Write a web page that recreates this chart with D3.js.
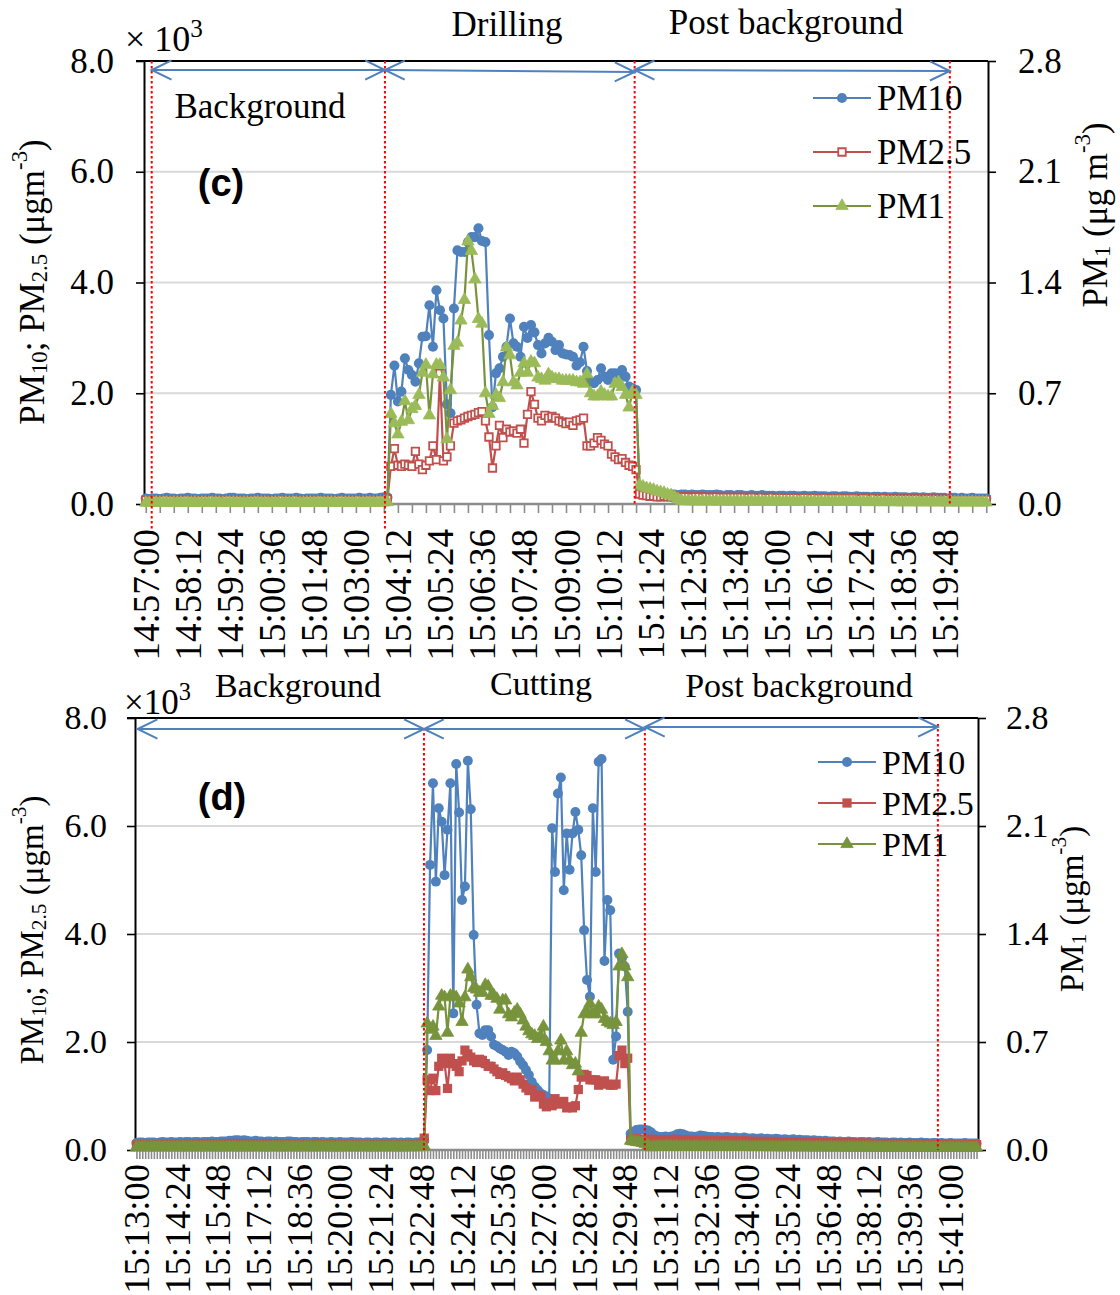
<!DOCTYPE html>
<html>
<head>
<meta charset="utf-8">
<script src="https://cdn.jsdelivr.net/npm/d3@7"></script>
<style>
  body { margin: 0; background: #fff; }
  svg { display: block; }
</style>
</head>
<body>
<svg id="chart" width="1120" height="1295"></svg>
<script>
// ---------- panel (c): drilling, one value every 6 s from 14:57:00 ----------
const bgC_pm10 = [
  0.10,0.09,0.10,0.10,0.09,0.10,0.11,0.10,0.10,0.09,
  0.10,0.10,0.11,0.10,0.10,0.09,0.10,0.10,0.10,0.11,
  0.10,0.10,0.09,0.10,0.11,0.11,0.10,0.10,0.10,0.09,
  0.10,0.10,0.11,0.10,0.10,0.10,0.09,0.10,0.10,0.11,
  0.10,0.10,0.10,0.11,0.10,0.09,0.10,0.10,0.10,0.10,
  0.11,0.10,0.10,0.10,0.09,0.10,0.11,0.10,0.10,0.10,
  0.10,0.11,0.10,0.10,0.11,0.10,0.10,0.11,0.12,0.12];
const bgC_pm25 = [
  0.07,0.06,0.07,0.07,0.06,0.07,0.08,0.07,0.07,0.06,
  0.07,0.07,0.08,0.07,0.06,0.06,0.07,0.07,0.07,0.08,
  0.07,0.07,0.06,0.07,0.08,0.07,0.07,0.07,0.06,0.06,
  0.07,0.07,0.08,0.07,0.07,0.07,0.06,0.07,0.07,0.08,
  0.07,0.07,0.07,0.08,0.07,0.06,0.07,0.07,0.07,0.07,
  0.08,0.07,0.07,0.07,0.06,0.07,0.08,0.07,0.07,0.07,
  0.07,0.08,0.07,0.07,0.08,0.07,0.07,0.08,0.08,0.09];
const bgC_pm1 = [
  0.008,0.007,0.008,0.009,0.007,0.008,0.008,0.007,0.009,0.008,
  0.008,0.007,0.008,0.008,0.009,0.007,0.008,0.008,0.007,0.008,
  0.009,0.008,0.007,0.008,0.008,0.009,0.008,0.007,0.008,0.008,
  0.007,0.008,0.009,0.008,0.008,0.007,0.008,0.009,0.008,0.007,
  0.008,0.008,0.009,0.008,0.007,0.008,0.008,0.009,0.008,0.008,
  0.007,0.008,0.008,0.009,0.008,0.007,0.008,0.008,0.009,0.008,
  0.008,0.007,0.009,0.008,0.008,0.009,0.008,0.009,0.010,0.012];

const drill_pm10 = [
  1.97,2.50,1.85,2.03,2.63,2.42,2.33,2.21,2.54,3.02,
  3.03,3.59,2.84,3.86,3.50,3.35,1.80,1.64,3.53,4.58,
  4.55,4.55,4.73,4.82,4.82,4.98,4.75,4.73,3.05,1.75,
  2.36,2.45,2.66,2.84,3.35,2.90,2.84,2.66,3.20,3.00,
  3.23,3.10,2.87,2.72,2.90,3.00,2.93,2.78,2.87,2.72,
  2.70,2.69,2.66,2.50,2.56,2.84,2.40,2.21,2.18,2.24,
  2.45,2.30,2.24,2.36,2.36,2.27,2.42,2.30,2.12,2.09,
  2.06];
const drill_pm25 = [
  0.68,1.00,0.70,0.68,0.72,0.70,0.68,0.95,0.72,0.62,
  0.70,0.78,1.05,0.80,2.36,0.78,0.85,1.05,1.46,1.50,
  1.52,1.55,1.58,1.60,1.62,1.65,1.67,1.50,1.21,0.65,
  1.05,1.42,1.20,1.35,1.30,1.32,1.28,1.35,1.10,1.62,
  2.03,1.80,1.55,1.50,1.60,1.55,1.58,1.55,1.50,1.48,
  1.45,1.48,1.42,1.50,1.52,1.55,1.05,1.05,1.10,1.20,
  1.15,1.08,1.05,0.90,0.85,0.80,0.82,0.75,0.70,0.68,
  0.62];
const drill_pm1 = [
  0.57,0.51,0.44,0.52,0.65,0.53,0.60,0.62,0.69,0.83,
  0.88,0.56,0.82,0.88,0.88,0.80,0.41,0.72,1.00,1.02,
  1.16,1.29,1.66,1.60,1.42,1.17,1.14,0.70,0.57,0.62,
  0.69,0.67,0.77,0.99,0.94,0.77,0.75,0.83,0.89,0.83,
  0.90,0.89,0.80,0.79,0.78,0.82,0.80,0.79,0.79,0.78,
  0.78,0.78,0.78,0.77,0.77,0.76,0.82,0.70,0.68,0.68,
  0.71,0.69,0.68,0.68,0.76,0.77,0.74,0.69,0.61,0.71,
  0.69];

const postC_pm10 = [
  0.22,0.20,0.19,0.18,0.18,0.17,0.17,0.18,0.17,0.17,
  0.17,0.16,0.17,0.17,0.16,0.17,0.16,0.16,0.17,0.16,
  0.16,0.16,0.17,0.16,0.15,0.16,0.16,0.15,0.16,0.16,
  0.15,0.15,0.16,0.15,0.15,0.16,0.15,0.15,0.15,0.14,
  0.15,0.15,0.14,0.15,0.15,0.14,0.14,0.15,0.14,0.14,
  0.15,0.14,0.14,0.14,0.13,0.14,0.14,0.13,0.14,0.14,
  0.13,0.13,0.14,0.13,0.13,0.13,0.12,0.13,0.13,0.12,
  0.13,0.12,0.12,0.13,0.12,0.12,0.12,0.11,0.12,0.12,
  0.11,0.12,0.11,0.11,0.12,0.11,0.11,0.11,0.10,0.11,
  0.11,0.10,0.11,0.10,0.10,0.11,0.10,0.10,0.10,0.10];
const postC_pm25 = [
  0.18,0.16,0.15,0.14,0.14,0.13,0.13,0.14,0.13,0.13,
  0.13,0.13,0.13,0.13,0.13,0.12,0.13,0.13,0.12,0.13,
  0.12,0.12,0.13,0.12,0.12,0.12,0.12,0.12,0.12,0.12,
  0.12,0.11,0.12,0.12,0.11,0.12,0.11,0.11,0.12,0.11,
  0.11,0.11,0.11,0.11,0.11,0.11,0.10,0.11,0.11,0.10,
  0.11,0.10,0.10,0.11,0.10,0.10,0.10,0.10,0.10,0.10,
  0.10,0.10,0.10,0.09,0.10,0.10,0.09,0.10,0.09,0.09,
  0.10,0.09,0.09,0.09,0.09,0.09,0.09,0.09,0.09,0.09,
  0.09,0.08,0.09,0.09,0.08,0.09,0.08,0.08,0.09,0.08,
  0.08,0.08,0.08,0.08,0.08,0.08,0.08,0.08,0.08,0.08];
const postC_pm1 = [
  0.120,0.110,0.100,0.095,0.090,0.080,0.075,0.070,0.060,0.055,
  0.045,0.030,0.020,0.018,0.017,0.018,0.017,0.016,0.017,0.017,
  0.016,0.017,0.016,0.016,0.017,0.016,0.015,0.016,0.016,0.015,
  0.016,0.015,0.016,0.015,0.015,0.016,0.015,0.015,0.014,0.015,
  0.015,0.014,0.015,0.014,0.015,0.014,0.014,0.015,0.014,0.014,
  0.014,0.013,0.014,0.014,0.013,0.014,0.013,0.014,0.013,0.013,
  0.013,0.014,0.013,0.013,0.012,0.013,0.013,0.012,0.013,0.012,
  0.012,0.013,0.012,0.012,0.012,0.011,0.012,0.012,0.011,0.012,
  0.011,0.012,0.011,0.011,0.012,0.011,0.011,0.011,0.010,0.011,
  0.011,0.010,0.011,0.010,0.010,0.011,0.010,0.010,0.010,0.010];

const labelsC = ["14:57:00","14:58:12","14:59:24","15:00:36","15:01:48","15:03:00",
  "15:04:12","15:05:24","15:06:36","15:07:48","15:09:00","15:10:12","15:11:24",
  "15:12:36","15:13:48","15:15:00","15:16:12","15:17:24","15:18:36","15:19:48"];
const phasesC = ["Background", "Drilling", "Post background"];

// ---------- panel (d): cutting, one value every 6 s from 15:13:00 ----------
const bgD_pm10 = [
  0.13,0.14,0.14,0.13,0.14,0.14,0.14,0.13,0.14,0.15,
  0.14,0.14,0.15,0.14,0.14,0.15,0.14,0.15,0.15,0.14,
  0.15,0.15,0.14,0.15,0.15,0.15,0.16,0.15,0.15,0.16,
  0.16,0.16,0.17,0.17,0.18,0.18,0.17,0.18,0.17,0.16,
  0.16,0.17,0.16,0.16,0.15,0.16,0.16,0.15,0.16,0.15,
  0.15,0.15,0.16,0.16,0.15,0.15,0.14,0.15,0.15,0.15,
  0.14,0.15,0.15,0.14,0.15,0.14,0.14,0.15,0.14,0.14,
  0.15,0.14,0.14,0.14,0.15,0.14,0.14,0.14,0.13,0.14,
  0.14,0.13,0.14,0.14,0.13,0.14,0.14,0.13,0.14,0.14,
  0.13,0.14,0.13,0.14,0.14,0.13,0.14,0.14,0.15,0.17];
const bgD_pm25 = [
  0.09,0.10,0.10,0.09,0.10,0.10,0.09,0.10,0.10,0.11,
  0.10,0.10,0.11,0.10,0.10,0.11,0.10,0.10,0.11,0.10,
  0.11,0.10,0.10,0.11,0.10,0.11,0.11,0.10,0.11,0.11,
  0.11,0.11,0.12,0.11,0.12,0.12,0.11,0.12,0.11,0.11,
  0.11,0.11,0.11,0.10,0.11,0.11,0.10,0.11,0.10,0.11,
  0.10,0.11,0.10,0.11,0.10,0.10,0.10,0.11,0.10,0.10,
  0.10,0.10,0.11,0.10,0.10,0.10,0.10,0.11,0.10,0.10,
  0.10,0.10,0.10,0.09,0.10,0.10,0.10,0.09,0.10,0.10,
  0.09,0.10,0.10,0.09,0.10,0.10,0.09,0.10,0.10,0.09,
  0.10,0.10,0.09,0.10,0.10,0.09,0.10,0.10,0.12,0.22];
const bgD_pm1 = [
  0.018,0.017,0.018,0.019,0.017,0.018,0.018,0.017,0.019,0.018,
  0.018,0.017,0.018,0.018,0.019,0.017,0.018,0.018,0.017,0.018,
  0.019,0.018,0.017,0.018,0.018,0.019,0.018,0.017,0.018,0.018,
  0.017,0.018,0.019,0.018,0.018,0.017,0.018,0.019,0.018,0.017,
  0.018,0.018,0.019,0.018,0.017,0.018,0.018,0.019,0.018,0.018,
  0.017,0.018,0.018,0.019,0.018,0.017,0.018,0.018,0.019,0.018,
  0.018,0.017,0.019,0.018,0.018,0.019,0.018,0.017,0.018,0.018,
  0.017,0.018,0.018,0.019,0.018,0.017,0.018,0.018,0.019,0.018,
  0.018,0.017,0.018,0.019,0.018,0.017,0.018,0.018,0.019,0.018,
  0.017,0.018,0.018,0.019,0.018,0.018,0.019,0.018,0.020,0.025];

const cut_pm10 = [
  1.85,5.28,6.79,4.97,6.33,6.08,5.09,5.93,6.79,2.53,
  7.15,6.25,4.63,4.88,7.21,6.31,3.98,2.69,2.16,2.13,
  2.22,2.22,2.10,1.95,1.92,1.88,1.85,1.82,1.76,1.82,
  1.79,1.73,1.64,1.57,1.48,1.39,1.26,1.17,1.11,1.05,
  1.02,0.99,0.95,5.96,5.15,6.60,6.90,4.81,5.86,5.19,
  5.86,6.26,5.93,5.46,4.07,3.15,2.84,6.33,5.15,7.19,
  7.24,3.50,4.63,4.44,1.67,2.10,3.64,3.55,3.40,2.56];
const cut_pm25 = [
  1.30,1.10,1.33,1.10,1.55,1.70,1.60,1.14,1.70,1.60,
  1.55,1.45,1.65,1.85,1.78,1.72,1.65,1.62,1.68,1.66,
  1.60,1.55,1.55,1.50,1.45,1.40,1.43,1.38,1.35,1.32,
  1.28,1.35,1.30,1.22,1.15,1.10,1.12,0.98,1.02,1.00,
  0.85,0.80,0.88,0.82,0.95,0.85,0.88,0.90,0.78,0.80,
  0.78,0.82,1.12,1.35,1.40,1.38,1.30,1.30,1.30,1.20,
  1.25,1.28,1.22,1.20,1.20,1.22,1.75,1.85,1.60,1.70];
const cut_pm1 = [
  0.82,0.78,0.80,0.74,0.93,1.00,0.99,0.76,1.00,1.00,
  0.99,0.95,0.83,0.99,1.17,1.12,1.05,1.04,1.02,1.02,
  1.07,1.06,1.00,1.00,0.98,0.91,0.97,0.97,0.88,0.86,
  0.89,0.91,0.88,0.84,0.80,0.77,0.75,0.74,0.72,0.74,
  0.80,0.70,0.64,0.58,0.58,0.64,0.71,0.58,0.64,0.58,
  0.55,0.56,0.51,0.76,0.88,0.90,0.95,0.88,0.88,0.93,
  0.91,0.85,0.83,0.82,0.81,0.83,1.19,1.27,1.19,1.12];

const postD_pm10 = [
  0.30,0.34,0.37,0.38,0.38,0.37,0.36,0.33,0.28,0.25,
  0.24,0.24,0.25,0.24,0.25,0.26,0.29,0.30,0.29,0.27,
  0.25,0.25,0.24,0.25,0.27,0.26,0.25,0.24,0.24,0.23,
  0.24,0.23,0.23,0.24,0.23,0.22,0.23,0.22,0.22,0.23,
  0.22,0.21,0.22,0.21,0.21,0.22,0.20,0.21,0.20,0.20,
  0.21,0.20,0.19,0.20,0.19,0.19,0.20,0.18,0.19,0.18,
  0.18,0.18,0.17,0.18,0.17,0.17,0.16,0.17,0.16,0.16,
  0.16,0.15,0.16,0.15,0.15,0.16,0.15,0.15,0.14,0.15,
  0.15,0.14,0.15,0.14,0.14,0.15,0.14,0.14,0.14,0.13,
  0.14,0.14,0.13,0.14,0.13,0.13,0.14,0.13,0.13,0.13,
  0.14,0.13,0.13,0.12,0.13,0.13,0.12,0.13,0.12,0.12,
  0.13,0.12,0.12,0.12,0.12,0.13,0.12,0.12,0.12,0.12];
const postD_pm25 = [
  0.18,0.20,0.21,0.20,0.19,0.18,0.19,0.20,0.19,0.18,
  0.18,0.19,0.18,0.18,0.19,0.20,0.19,0.18,0.18,0.19,
  0.18,0.18,0.17,0.18,0.18,0.17,0.18,0.17,0.17,0.18,
  0.17,0.17,0.16,0.17,0.17,0.16,0.17,0.16,0.16,0.17,
  0.16,0.16,0.15,0.16,0.16,0.15,0.16,0.15,0.15,0.16,
  0.15,0.15,0.14,0.15,0.15,0.14,0.15,0.14,0.14,0.15,
  0.14,0.14,0.14,0.13,0.14,0.14,0.13,0.14,0.13,0.13,
  0.14,0.13,0.13,0.13,0.12,0.13,0.13,0.12,0.13,0.12,
  0.12,0.13,0.12,0.12,0.12,0.11,0.12,0.12,0.11,0.12,
  0.11,0.11,0.12,0.11,0.11,0.11,0.12,0.11,0.11,0.11,
  0.11,0.10,0.11,0.11,0.10,0.11,0.10,0.11,0.10,0.10,
  0.11,0.10,0.10,0.10,0.11,0.10,0.10,0.10,0.10,0.10];
const postD_pm1 = [
  0.060,0.056,0.052,0.050,0.046,0.040,0.028,0.018,0.020,0.022,
  0.023,0.022,0.023,0.024,0.023,0.022,0.023,0.022,0.022,0.023,
  0.022,0.021,0.022,0.022,0.021,0.022,0.021,0.021,0.022,0.021,
  0.021,0.020,0.021,0.021,0.020,0.021,0.020,0.020,0.021,0.020,
  0.020,0.020,0.019,0.020,0.020,0.019,0.020,0.019,0.019,0.020,
  0.019,0.019,0.018,0.019,0.019,0.018,0.019,0.018,0.018,0.019,
  0.018,0.018,0.018,0.017,0.018,0.018,0.017,0.018,0.017,0.017,
  0.018,0.017,0.017,0.017,0.016,0.017,0.017,0.016,0.017,0.016,
  0.016,0.017,0.016,0.016,0.016,0.015,0.016,0.016,0.015,0.016,
  0.015,0.015,0.016,0.015,0.015,0.015,0.016,0.015,0.015,0.015,
  0.015,0.014,0.015,0.015,0.014,0.015,0.014,0.015,0.014,0.014,
  0.015,0.014,0.014,0.014,0.015,0.014,0.014,0.014,0.014,0.014];

const labelsD = ["15:13:00","15:14:24","15:15:48","15:17:12","15:18:36","15:20:00",
  "15:21:24","15:22:48","15:24:12","15:25:36","15:27:00","15:28:24","15:29:48",
  "15:31:12","15:32:36","15:34:00","15:35:24","15:36:48","15:38:12","15:39:36","15:41:00"];
const phasesD = ["Background", "Cutting", "Post background"];

const leftTicks = [0, 2, 4, 6, 8];
const rightTicks = [0, 0.7, 1.4, 2.1, 2.8];
const seriesNames = ["PM10", "PM2.5", "PM1"];

// ---------- helpers ----------
const SERIF = '"Liberation Serif","Times New Roman",serif';
const BLUE = "#4F81BD", RED = "#C0504D";

function timeCats(start, n, step) {
  const [h, m, s] = start.split(":").map(Number);
  const t0 = h * 3600 + m * 60 + s;
  return d3.range(n).map(i => {
    const t = t0 + i * step;
    const p = v => String(v).padStart(2, "0");
    return `${p(Math.floor(t / 3600))}:${p(Math.floor(t / 60) % 60)}:${p(t % 60)}`;
  });
}

const svg = d3.select("#chart");

function drawPanel(c) {
  const pm10 = c.pm10, pm25 = c.pm25, pm1 = c.pm1;
  const cats = timeCats(c.start, pm10.length, 6);
  const idx = d3.range(cats.length);

  const x = d3.scalePoint().domain(idx).range([c.left, c.right]).padding(0.5);
  const step = x.step();
  const xAt = k => x(0) + k * step;           // fractional category position
  const yL = d3.scaleLinear().domain([0, 8]).range([c.bottom, c.top]);
  const yR = d3.scaleLinear().domain([0, 2.8]).range([c.bottom, c.top]);

  const g = svg.append("g");

  // gridlines
  g.append("g").selectAll("line").data([2, 4, 6]).join("line")
    .attr("x1", c.left).attr("x2", c.right)
    .attr("y1", d => yL(d)).attr("y2", d => yL(d))
    .attr("stroke", "#D9D9D9").attr("stroke-width", 2);

  // x axis: grey line + ticks
  const xa = g.append("g").attr("transform", `translate(0,${c.bottom})`)
    .call(d3.axisBottom(x).tickValues(idx.filter(i => i % c.tickEvery === 0))
      .tickFormat("").tickSize(9).tickSizeOuter(0));
  xa.select(".domain").remove();
  xa.selectAll(".tick line").attr("stroke", "#8C8C8C").attr("stroke-width", 1.6);
  g.append("line").attr("x1", c.left).attr("x2", c.right)
    .attr("y1", c.bottom).attr("y2", c.bottom)
    .attr("stroke", "#8C8C8C").attr("stroke-width", 2.5);

  // x labels (rotated)
  g.append("g").selectAll("text").data(c.labels).join("text")
    .attr("transform", d => `translate(${x(cats.indexOf(d)) + c.labelDx},${c.labelY}) rotate(-90)`)
    .attr("text-anchor", "end").attr("dominant-baseline", "central")
    .attr("font-family", SERIF).attr("font-size", c.fsX).text(d => d);

  // left axis
  const la = g.append("g").attr("transform", `translate(${c.left},0)`)
    .call(d3.axisLeft(yL).tickValues(leftTicks).tickFormat(d3.format(".1f"))
      .tickSizeInner(8).tickSizeOuter(0).tickPadding(c.tickPad));
  la.select(".domain").attr("stroke", "#000").attr("stroke-width", 2);
  la.selectAll(".tick line").attr("stroke", "#000").attr("stroke-width", 1.6);
  la.selectAll("text").attr("font-family", SERIF).attr("font-size", c.fs);

  // right axis
  const ra = g.append("g").attr("transform", `translate(${c.right},0)`)
    .call(d3.axisRight(yR).tickValues(rightTicks).tickFormat(d3.format(".1f"))
      .tickSizeInner(8).tickSizeOuter(0).tickPadding(c.tickPad));
  ra.select(".domain").attr("stroke", "#000").attr("stroke-width", 2);
  ra.selectAll(".tick line").attr("stroke", "#000").attr("stroke-width", 1.6);
  ra.selectAll("text").attr("font-family", SERIF).attr("font-size", c.fs);

  // top border line
  g.append("line").attr("x1", c.left - 8).attr("x2", c.right)
    .attr("y1", c.top).attr("y2", c.top).attr("stroke", "#000").attr("stroke-width", 2);

  // series
  const styles = [
    { v: pm10, y: yL, line: BLUE, sym: d3.symbolCircle, size: c.mk.circle, fill: BLUE, stroke: BLUE, sw: 0 },
    { v: pm25, y: yL, line: RED, sym: d3.symbolSquare, size: c.mk.square,
      fill: c.hollow ? "#fff" : RED, stroke: RED, sw: c.hollow ? 1.8 : 0 },
    { v: pm1, y: yR, line: c.greenLine, sym: d3.symbolTriangle, size: c.mk.tri,
      fill: c.greenFill, stroke: c.greenFill, sw: 0.8 }
  ];
  styles.forEach(st => {
    const sg = g.append("g");
    sg.append("path").datum(st.v)
      .attr("d", d3.line().x((d, i) => x(i)).y(d => st.y(d)))
      .attr("fill", "none").attr("stroke", st.line).attr("stroke-width", 2.2)
      .attr("stroke-linejoin", "round");
    sg.selectAll(".m").data(st.v).join("path").attr("class", "m")
      .attr("transform", (d, i) => `translate(${x(i)},${st.y(d)})`)
      .attr("d", d3.symbol(st.sym, st.size)())
      .attr("fill", st.fill).attr("stroke", st.stroke).attr("stroke-width", st.sw);
  });

  // phase markers (red dotted verticals)
  g.append("g").selectAll("line").data(c.marks).join("line")
    .attr("x1", d => xAt(d.k)).attr("x2", d => xAt(d.k))
    .attr("y1", d => d.y1).attr("y2", d => d.y2)
    .attr("stroke", "#FF0000").attr("stroke-width", 2).attr("stroke-dasharray", "2.5,2.5");

  // phase arrows
  const ag = g.append("g").attr("stroke", BLUE).attr("stroke-width", 2).attr("fill", "none");
  c.arrows.forEach(a => {
    const x1 = xAt(a.k1), x2 = xAt(a.k2);
    const ang = Math.atan2(a.y2 - a.y1, x2 - x1);
    ag.append("line").attr("x1", x1).attr("y1", a.y1).attr("x2", x2).attr("y2", a.y2);
    const head = (px, py, dir) => {
      const L = 22, w = 0.45;
      const pts = [[px + dir * L * Math.cos(ang - w), py + dir * L * Math.sin(ang - w)], [px, py],
                   [px + dir * L * Math.cos(ang + w), py + dir * L * Math.sin(ang + w)]];
      ag.append("path").attr("d", d3.line()(pts));
    };
    head(x1, a.y1, 1);
    head(x2, a.y2, -1);
  });

  // phase labels
  g.append("g").selectAll("text").data(c.phaseText).join("text")
    .attr("x", d => d.x).attr("y", d => d.y).attr("text-anchor", "middle")
    .attr("font-family", SERIF).attr("font-size", c.fs).text(d => d.t);

  // x10^3
  const mult = g.append("text").attr("x", c.mult[0]).attr("y", c.mult[1])
    .attr("font-family", SERIF).attr("font-size", c.fs + 1);
  mult.append("tspan").text(c.multText);
  mult.append("tspan").attr("dy", -14).attr("font-size", c.fs * 0.72).text("3");

  // panel letter
  g.append("text").attr("x", c.letter[0]).attr("y", c.letter[1]).attr("text-anchor", "middle")
    .attr("font-family", '"Liberation Sans",Arial,sans-serif').attr("font-weight", "bold")
    .attr("font-size", 38).text(c.letterText);

  // legend
  const lg = g.append("g");
  styles.forEach((st, i) => {
    const ly = c.legend.y + i * c.legend.dy;
    lg.append("line").attr("x1", c.legend.x).attr("x2", c.legend.x + 58)
      .attr("y1", ly).attr("y2", ly).attr("stroke", st.line).attr("stroke-width", 2.2);
    lg.append("path").attr("transform", `translate(${c.legend.x + 29},${ly})`)
      .attr("d", d3.symbol(st.sym, st.size)())
      .attr("fill", st.fill).attr("stroke", st.stroke).attr("stroke-width", st.sw);
    lg.append("text").attr("x", c.legend.x + 64).attr("y", ly).attr("dominant-baseline", "central")
      .attr("font-family", SERIF).attr("font-size", c.fsLeg).text(seriesNames[i]);
  });

  // axis titles
  const lt = g.append("text")
    .attr("transform", `translate(${c.leftTitle[0]},${c.leftTitle[1]}) rotate(-90)`)
    .attr("text-anchor", "middle").attr("dominant-baseline", "central")
    .attr("font-family", SERIF).attr("font-size", c.fsTitle);
  const sub = c.fsTitle * 0.65;
  lt.append("tspan").text("PM");
  lt.append("tspan").attr("dy", 7).attr("font-size", sub).text("10");
  lt.append("tspan").attr("dy", -7).text("; PM");
  lt.append("tspan").attr("dy", 7).attr("font-size", sub).text("2.5");
  lt.append("tspan").attr("dy", -7).text(" (μgm");
  lt.append("tspan").attr("dy", -13).attr("font-size", sub).text("-3");
  lt.append("tspan").attr("dy", 13).text(")");

  const rt = g.append("text")
    .attr("transform", `translate(${c.rightTitle[0]},${c.rightTitle[1]}) rotate(-90)`)
    .attr("text-anchor", "middle").attr("dominant-baseline", "central")
    .attr("font-family", SERIF).attr("font-size", c.fsTitle);
  rt.append("tspan").text("PM");
  rt.append("tspan").attr("dy", 7).attr("font-size", sub).text("1");
  rt.append("tspan").attr("dy", -7).text(c.rightUnit);
  rt.append("tspan").attr("dy", -13).attr("font-size", sub).text("-3");
  rt.append("tspan").attr("dy", 13).text(")");
}

drawPanel({
  start: "14:57:00",
  pm10: [...bgC_pm10, ...drill_pm10, ...postC_pm10],
  pm25: [...bgC_pm25, ...drill_pm25, ...postC_pm25],
  pm1: [...bgC_pm1, ...drill_pm1, ...postC_pm1],
  left: 144, right: 988, top: 61, bottom: 504,
  tickEvery: 4, labels: labelsC, labelY: 529, labelDx: 1,
  fs: 35, fsX: 37, fsLeg: 35, fsTitle: 35, tickPad: 22,
  hollow: true, greenLine: "#77933C", greenFill: "#9BBB59",
  mk: { circle: 80, square: 56, tri: 66 },
  marks: [{ k: 1.7, y1: 61, y2: 530 }, { k: 68.3, y1: 61, y2: 530 },
          { k: 139.6, y1: 61, y2: 504 }, { k: 229.6, y1: 61, y2: 504 }],
  arrows: [{ k1: 1.7, k2: 68.3, y1: 70, y2: 70 },
           { k1: 68.3, k2: 139.6, y1: 70, y2: 72 },
           { k1: 139.6, k2: 229.6, y1: 70, y2: 71 }],
  phaseText: [{ x: 260, y: 118, t: phasesC[0] }, { x: 507, y: 36, t: phasesC[1] },
              { x: 786, y: 34, t: phasesC[2] }],
  mult: [125, 51], multText: "× 10",
  letter: [221, 196], letterText: "(c)",
  legend: { x: 813, y: 98, dy: 54 },
  leftTitle: [32, 282], rightTitle: [1095, 215], rightUnit: " (μg m"
});

drawPanel({
  start: "15:13:00",
  pm10: [...bgD_pm10, ...cut_pm10, ...postD_pm10],
  pm25: [...bgD_pm25, ...cut_pm25, ...postD_pm25],
  pm1: [...bgD_pm1, ...cut_pm1, ...postD_pm1],
  left: 135, right: 978, top: 718, bottom: 1150,
  tickEvery: 1, labels: labelsD, labelY: 1164, labelDx: 0,
  fs: 34, fsX: 36.5, fsLeg: 34, fsTitle: 33, tickPad: 20,
  hollow: false, greenLine: "#77933C", greenFill: "#77933C",
  mk: { circle: 78, square: 85, tri: 66 },
  marks: [{ k: 98.9, y1: 728, y2: 1150 }, { k: 174.9, y1: 728, y2: 1150 },
          { k: 275.7, y1: 724, y2: 1150 }],
  arrows: [{ k1: 0.4, k2: 98.9, y1: 729, y2: 729 },
           { k1: 98.9, k2: 174.9, y1: 729, y2: 729 },
           { k1: 174.9, k2: 275.7, y1: 727, y2: 727 }],
  phaseText: [{ x: 298, y: 697, t: phasesD[0] }, { x: 541, y: 695, t: phasesD[1] },
              { x: 799, y: 697, t: phasesD[2] }],
  mult: [124, 714], multText: "×10",
  letter: [222, 810], letterText: "(d)",
  legend: { x: 818, y: 762, dy: 41 },
  leftTitle: [32, 930], rightTitle: [1072, 909], rightUnit: " (μgm"
});
</script>
</body>
</html>
